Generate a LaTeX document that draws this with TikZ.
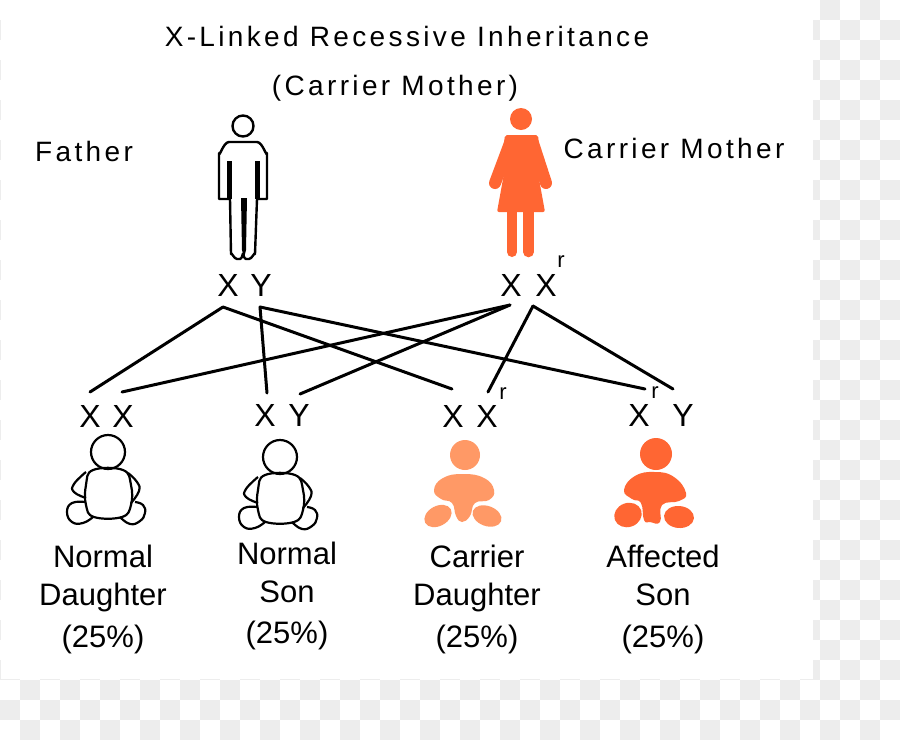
\documentclass[tikz,border=0pt]{standalone}
\usepackage{fontspec}
\setmainfont{Liberation Sans}
\newfontfamily\spacedfont[LetterSpace=12]{Liberation Sans}
\usepackage{tikz}
\usetikzlibrary{positioning}

\definecolor{checker}{HTML}{EDEDED}
\definecolor{affected}{HTML}{FF6633}
\definecolor{carrier}{HTML}{FF9966}

% outlined sitting child, argument is the shift
\newcommand{\outlinebaby}[1]{
	\begin{scope}[shift={(#1)},line width=2.2pt,line join=round]
		\draw (108,452) circle (17pt);
		\draw plot[smooth cycle,tension=0.7] coordinates {(93,470) (123,470) (131,485) (131,505) (122,517) (94,517) (86,505) (86,485)};
		\draw plot[smooth,tension=0.8] coordinates {(86,472) (74,484) (74,492) (86,498)};
		\draw plot[smooth,tension=0.8] coordinates {(128,473) (137,482) (139,491) (131,503)};
		\draw plot[smooth,tension=0.8] coordinates {(85,502) (72,503) (67,512) (72,522) (83,523) (93,517)};
		\draw plot[smooth,tension=0.8] coordinates {(135,502) (143,505) (145,513) (140,521) (130,524) (120,517)};
	\end{scope}
}

\begin{document}
\begin{tikzpicture}[x=1pt,y=-1pt,on grid,inner sep=0pt,outer sep=0pt]
	
	\tikzstyle{heading}=[font=\fontsize{28}{28}\selectfont\spacedfont]
	\tikzstyle{gene}=[font=\fontsize{32}{32}\selectfont]
	\tikzstyle{super}=[font=\fontsize{22}{22}\selectfont]
	\tikzstyle{caption}=[font=\fontsize{31}{38}\selectfont,align=center]
	\tikzstyle{link}=[line width=3pt,line cap=round]
	
	\useasboundingbox (0,0) rectangle (900,740);
	
	% checker background
	\foreach \i in {0,...,44}
		\foreach \j in {0,...,36}
			{\ifodd\numexpr\i+\j\relax
				\fill[checker] (20*\i,20*\j) rectangle +(20,20);
			\fi}
	\fill[white] (1,0) rectangle (813,679);
	
	\node[heading] (title) at (407,36) {X-Linked Recessive Inheritance};
	\node[heading] (subtitle) [below left=52pt and 12pt of title] {(Carrier Mother)};
	\node[heading] (father) at (84,151) {Father};
	\node[heading] (mother) at (674,148) {Carrier Mother};
	
	% father figure
	\draw[line width=2.4pt] (243,126) circle (10.5pt);
	\draw[line width=2.4pt,line join=round] (219,199) -- (219,153) to[out=-90,in=180] (229,142) -- (257,142) to[out=0,in=-90] (267,153) -- (267,199) -- (257,199) -- (255,254) to[out=90,in=0] (249,259) -- (246,259) to[out=180,in=90] (243,254) to[out=90,in=0] (240,259) -- (237,259) to[out=180,in=90] (231,254) -- (230,199) -- cycle;
	\fill (227,161) rectangle (232,199);
	\fill (255,161) rectangle (260,199);
	\fill (241,198) -- (247,198) -- (246,250) -- (244,258) -- (242,250) -- cycle;
	
	% mother figure
	\fill[affected] (521,119) circle (11pt);
	\draw[affected,line width=12pt,line cap=round,line join=round] (510,143) -- (495,183);
	\draw[affected,line width=12pt,line cap=round,line join=round] (533,143) -- (546,183);
	\fill[affected,rounded corners=2pt] (505,135) -- (538,135) -- (541,165) -- (537,168) -- (545,212) -- (497,212) -- (505,168) -- (501,165) -- cycle;
	\draw[affected,line width=10pt,line cap=round] (512,212) -- (512,252);
	\draw[affected,line width=10.5pt,line cap=round] (528.5,212) -- (528.5,252);
	
	% parents genes
	\node[gene] (FX) at (228,285) {X};
	\node[gene] (FY) [right=33pt of FX] {Y};
	\node[gene] (MX) at (511,285) {X};
	\node[gene] (MR) [right=35pt of MX] {X};
	\node[super] (MRs) [above right=23pt and 15pt of MR] {r};
	
	% children genes
	\node[gene] (AX) at (90,416) {X};
	\node[gene] (AB) [right=33pt of AX] {X};
	\node[gene] (BX) at (265,415) {X};
	\node[gene] (BY) [right=34pt of BX] {Y};
	\node[gene] (CX) at (453,416) {X};
	\node[gene] (CR) [right=34pt of CX] {X};
	\node[super] (CRs) [above right=22pt and 16pt of CR] {r};
	\node[gene] (DR) at (639,415) {X};
	\node[gene] (DY) [right=44pt of DR] {Y};
	\node[super] (DRs) [above right=22pt and 16pt of DR] {r};
	
	% line ends
	\coordinate (FXb) at (223,307);
	\coordinate (FYb) at (260,307);
	\coordinate (MXb) at (510,305);
	\coordinate (MRb) at (533,306);
	\coordinate (AXt) at (90,392);
	\coordinate (ABt) at (122,392);
	\coordinate (BXt) at (267,393);
	\coordinate (BYt) at (300,394);
	\coordinate (CXt) at (452,389);
	\coordinate (CRt) at (488,392);
	\coordinate (DRt) at (645,389);
	\coordinate (DYt) at (673,389);
	
	\draw[link] (FXb) -- (AXt);
	\draw[link] (FXb) -- (CXt);
	\draw[link] (FYb) -- (BXt);
	\draw[link] (FYb) -- (DRt);
	\draw[link] (MXb) -- (ABt);
	\draw[link] (MXb) -- (BYt);
	\draw[link] (MRb) -- (CRt);
	\draw[link] (MRb) -- (DYt);
	
	% children figures
	\outlinebaby{0,0}
	\outlinebaby{172,5}
	
	\fill[carrier] (465,455) circle (15pt);
	\fill[carrier] plot[smooth cycle,tension=0.8] coordinates {(434,490) (441,499) (452,503) (456,516) (462,522) (470,516) (475,503) (489,500) (494,490) (484,478) (463,474) (443,478)};
	\fill[carrier] (438,516) ellipse [x radius=14.5pt,y radius=10pt,rotate=28];
	\fill[carrier] (487,516) ellipse [x radius=15pt,y radius=10pt,rotate=-20];
	
	\fill[affected] (656,454) circle (16pt);
	\fill[affected] plot[smooth cycle,tension=0.8] coordinates {(624,490) (632,499) (641,503) (644,520) (650,522) (660,522) (662,505) (679,501) (686,493) (674,477) (655,472) (635,476)};
	\fill[affected] (628,515) ellipse [x radius=14pt,y radius=12pt,rotate=20];
	\fill[affected] (679,517) ellipse [x radius=15pt,y radius=11pt,rotate=-5];
	
	% captions
	\node[caption] (Acap) at (103,599) {Normal\\Daughter\\[4pt](25\%)};
	\node[caption] (Bcap) at (287,596) {Normal\\Son\\[3pt](25\%)};
	\node[caption] (Ccap) at (477,599) {Carrier\\Daughter\\[4pt](25\%)};
	\node[caption] (Dcap) at (663,599) {Affected\\Son\\[4pt](25\%)};
	
\end{tikzpicture}
\end{document}
